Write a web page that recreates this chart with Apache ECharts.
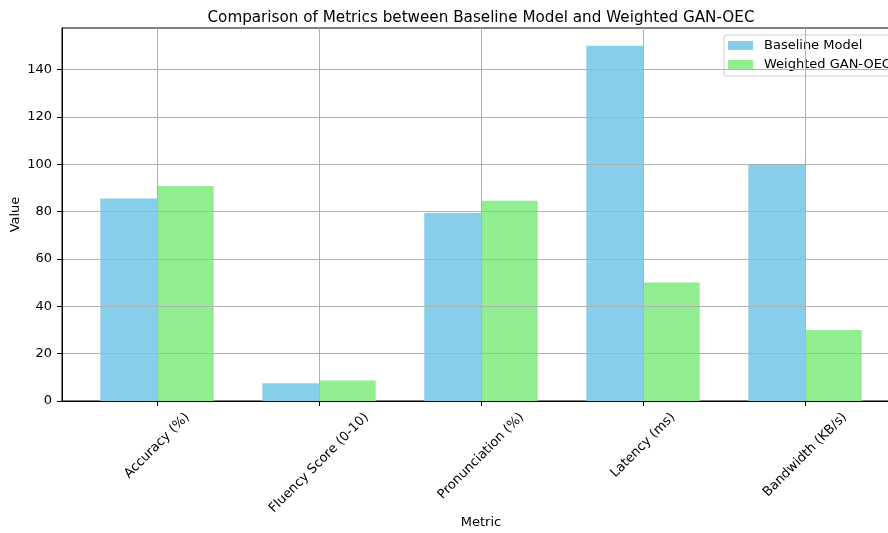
<!DOCTYPE html>
<html>
<head>
<meta charset="utf-8">
<script src="https://cdn.jsdelivr.net/npm/echarts@6/dist/echarts.min.js"></script>
<style>
html,body{margin:0;padding:0;background:#fff;}
#chart{width:888px;height:533px;}
</style>
</head>
<body>
<div id="chart"></div>
<script>
const categories = ['Accuracy (%)', 'Fluency Score (0-10)', 'Pronunciation (%)', 'Latency (ms)', 'Bandwidth (KB/s)'];
const baselineValues = [85.5, 7.5, 79.4, 150, 100];
const weightedValues = [90.8, 8.7, 84.6, 50, 30];
const yTicks = [0, 20, 40, 60, 80, 100, 120, 140];
const seriesNames = ['Baseline Model', 'Weighted GAN-OEC'];
const titleText = 'Comparison of Metrics between Baseline Model and Weighted GAN-OEC';

const FONT = '"DejaVu Sans", "Liberation Sans", sans-serif';
const TICK_FS = 13;
const YMAX = 157.5;

// matplotlib-like centred rotated labels: compute padding from text width
const cv = document.createElement('canvas').getContext('2d');
cv.font = TICK_FS + 'px "DejaVu Sans"';
const rich = {};
categories.forEach((c, i) => {
  const L = cv.measureText(c).width;
  const p = (L + 15) / 2;
  rich['l' + i] = { fontSize: TICK_FS, fontFamily: FONT, color: '#000', padding: [p, p, 0, 0] };
});

const chart = echarts.init(document.getElementById('chart'), null, { renderer: 'canvas' });
const gridCommon = { top: 28, bottom: 132, containLabel: false, outerBoundsMode: 'none' };

const option = {
  animation: false,
  backgroundColor: '#fff',
  textStyle: { fontFamily: FONT },
  title: {
    text: titleText,
    left: 476, top: 6, textAlign: 'center',
    textStyle: { fontFamily: FONT, fontSize: 15.2, fontWeight: 'normal', color: '#000' }
  },
  legend: {
    orient: 'vertical',
    left: 724, top: 35,
    padding: [4, 8, 5, 4],
    itemWidth: 25, itemHeight: 9, itemGap: 6,
    icon: 'rect',
    backgroundColor: 'rgba(255,255,255,0.8)',
    borderColor: '#cccccc', borderWidth: 1, borderRadius: 3,
    textStyle: { fontFamily: FONT, fontSize: 13, color: '#000', padding: [0, 0, 0, 6] },
    data: seriesNames
  },
  grid: [
    Object.assign({ left: 62, right: -12, show: true, borderColor: '#000', borderWidth: 1, backgroundColor: 'transparent' }, gridCommon),
    Object.assign({ left: 76, right: 2 }, gridCommon),
    Object.assign({ left: 157, right: 83 }, gridCommon)
  ],
  xAxis: [
    {
      gridIndex: 0, type: 'value', min: 0, max: 1, z: 10,
      name: 'Metric', nameLocation: 'middle', nameGap: 115, nameMoveOverlap: false,
      nameTextStyle: { fontFamily: FONT, fontSize: 13, color: '#000' },
      axisLine: { show: true, onZero: false, lineStyle: { color: '#000', width: 1 } },
      axisTick: { show: false }, axisLabel: { show: false }, splitLine: { show: false }
    },
    {
      gridIndex: 1, type: 'category', data: categories, boundaryGap: true, z: 10,
      axisLine: { show: false },
      axisTick: { show: true, alignWithLabel: true, length: 5, lineStyle: { color: '#000', width: 1 } },
      axisLabel: {
        show: true, interval: 0, rotate: 45, margin: 9,
        align: 'center', verticalAlign: 'middle',
        formatter: (v, i) => '{l' + i + '|' + v + '}',
        rich: rich
      },
      splitLine: { show: false }
    },
    {
      gridIndex: 2, type: 'category', data: categories, boundaryGap: false, z: 10,
      axisLine: { show: false }, axisTick: { show: false }, axisLabel: { show: false },
      splitLine: { show: true, lineStyle: { color: '#b0b0b0', width: 1 } }
    }
  ],
  yAxis: [
    {
      gridIndex: 0, type: 'value', min: 0, max: YMAX, interval: 20, z: 10,
      name: 'Value', nameLocation: 'middle', nameGap: 40, nameRotate: 90, nameMoveOverlap: false,
      nameTextStyle: { fontFamily: FONT, fontSize: 13, color: '#000' },
      axisLine: { show: true, onZero: false, lineStyle: { color: '#000', width: 1 } },
      axisTick: { show: true, length: 5, customValues: yTicks, lineStyle: { color: '#000' } },
      axisLabel: { show: true, margin: 10, customValues: yTicks, fontFamily: FONT, fontSize: TICK_FS, color: '#000' },
      splitLine: { show: true, lineStyle: { color: '#b0b0b0', width: 1 } }
    },
    {
      gridIndex: 1, type: 'value', min: 0, max: YMAX,
      axisLine: { show: false }, axisTick: { show: false }, axisLabel: { show: false }, splitLine: { show: false }
    },
    {
      gridIndex: 2, type: 'value', min: 0, max: YMAX,
      axisLine: { show: false }, axisTick: { show: false }, axisLabel: { show: false }, splitLine: { show: false }
    }
  ],
  series: [
    {
      name: seriesNames[0], type: 'bar', xAxisIndex: 1, yAxisIndex: 1,
      data: baselineValues, barWidth: '35%', barGap: '0%',
      itemStyle: { color: '#87CEEB' }
    },
    {
      name: seriesNames[1], type: 'bar', xAxisIndex: 1, yAxisIndex: 1,
      data: weightedValues, barWidth: '35%', barGap: '0%',
      itemStyle: { color: '#90EE90' }
    }
  ]
};
chart.setOption(option);
</script>
</body>
</html>
